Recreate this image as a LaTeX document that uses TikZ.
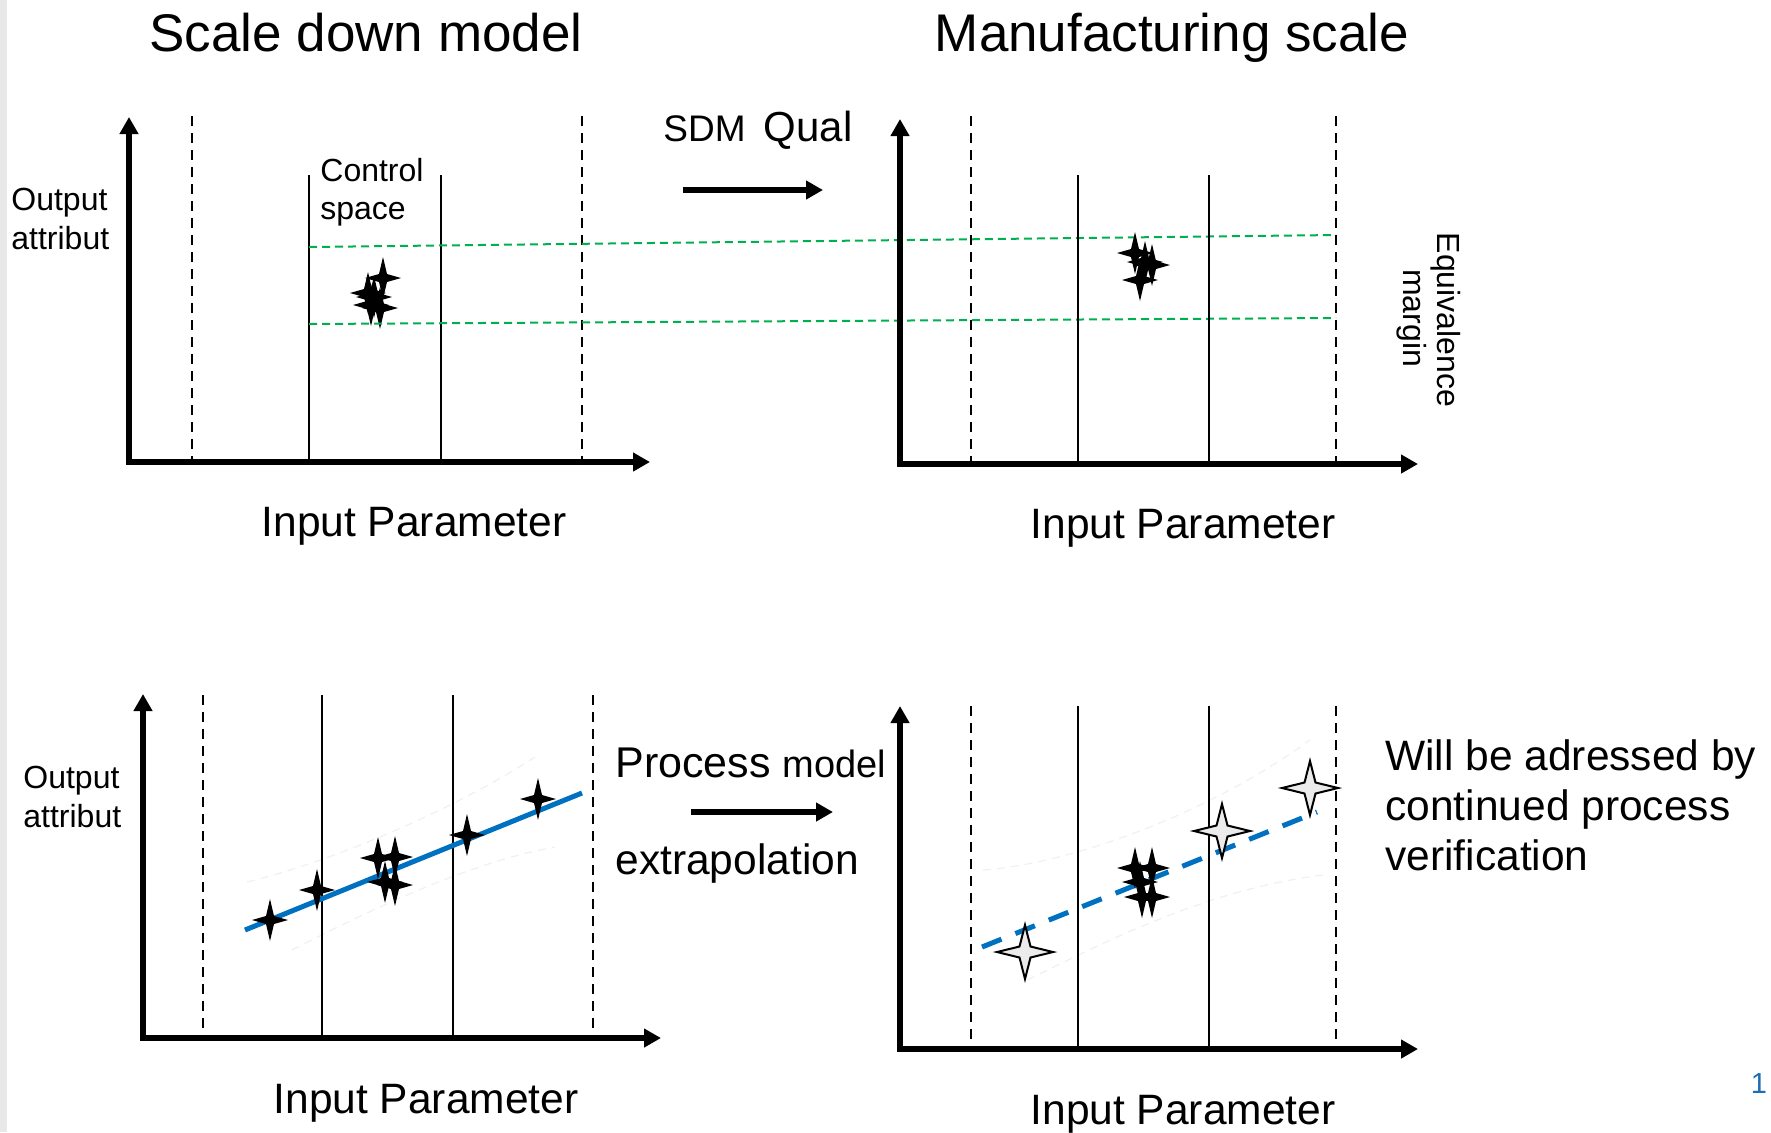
\documentclass[tikz,border=0pt]{standalone}
\usepackage{fontspec}
\setmainfont{Liberation Sans}
\usetikzlibrary{arrows.meta}
\definecolor{eqgreen}{RGB}{0,176,80}
\definecolor{fitblue}{RGB}{0,112,192}
\definecolor{pagenum}{RGB}{30,110,180}
\definecolor{stripgray}{RGB}{232,232,232}
\tikzset{
  bigtext/.style={font=\fontsize{21.25}{25.5}\selectfont, inner sep=0pt},
  titletext/.style={font=\fontsize{26.5}{32}\selectfont, inner sep=0pt},
  smalltext/.style={font=\fontsize{16}{19.5}\selectfont, inner sep=0pt},
  axesline/.style={line width=3pt, line join=miter,
     {Triangle[length=8.5pt,width=9pt]}-{Triangle[length=8.5pt,width=9pt]}},
  midarrow/.style={line width=3pt, -{Triangle[length=8.5pt,width=9pt]}},
  limitline/.style={line width=1pt, dash pattern=on 5pt off 3.5pt},
  ctrlline/.style={line width=0.9pt},
  equivline/.style={line width=1pt, draw=eqgreen, dash pattern=on 4pt off 2.5pt},
  fitline/.style={line width=2.5pt, draw=fitblue},
  fitdashed/.style={line width=2.5pt, draw=fitblue, dash pattern=on 10.5pt off 7.5pt},
  bandline/.style={line width=0.6pt, draw=black!6, dash pattern=on 4pt off 3pt},
  bstar/.pic={\fill[black] (0,-21) -- (4,-4) -- (18,0) -- (4,4) -- (0,21) -- (-4,4) -- (-18,0) -- (-4,-4) -- cycle;},
  wstar/.pic={\filldraw[fill=black!8, draw=black, line width=1pt] (0,-27) -- (5.5,-5.5) -- (28,0) -- (5.5,5.5) -- (0,27) -- (-5.5,5.5) -- (-28,0) -- (-5.5,-5.5) -- cycle;}
}
\begin{document}
\begin{tikzpicture}[x=0.5pt,y=-0.5pt]
\useasboundingbox (0,0) rectangle (1771,1132);
\fill[stripgray] (0,0) rectangle (7,1132);

% titles
\node[titletext, anchor=base] (t1) at (366,51) {Scale down model};
\node[titletext, anchor=base] (t2) at (1172,51) {Manufacturing scale};

% ---------- top left panel ----------
\coordinate (tlY) at (129,117);
\coordinate (tlO) at (129,462);
\coordinate (tlX) at (650,462);
\draw[limitline] (192,116) -- (192,462);
\draw[limitline] (582,116) -- (582,462);
\draw[ctrlline] (309,175) -- (309,462);
\draw[ctrlline] (441,175) -- (441,462);
\draw[axesline] (tlY) -- (tlO) -- (tlX);
\node[smalltext, anchor=base west] (ctl1) at (320,181) {Control};
\node[smalltext, anchor=base west] (ctl2) at (320,219) {space};
\node[smalltext, anchor=base west] (oa1) at (11,210) {Output};
\node[smalltext, anchor=base west] (oa2) at (11,249) {attribut};
\node[bigtext, anchor=base] (ip1) at (414,536) {Input Parameter};
\pic at (383,278) {bstar};
\pic at (368,293) {bstar};
\pic at (374,297) {bstar};
\pic at (380,308) {bstar};
\pic at (371,305) {bstar};

% equivalence margin lines
\draw[equivline] (309,247) -- (1336,235);
\draw[equivline] (309,324) -- (1336,318);

% SDM Qual arrow
\node[anchor=base west, inner sep=0pt] (sdm) at (663,141)
  {{\fontsize{18.5}{22}\selectfont SDM}\hspace{9pt}{\fontsize{21}{25}\selectfont Qual}};
\coordinate (sdmA) at (683,190);
\coordinate (sdmB) at (823,190);
\draw[midarrow] (sdmA) -- (sdmB);

% ---------- top right panel ----------
\coordinate (trY) at (900,119);
\coordinate (trO) at (900,464);
\coordinate (trX) at (1418,464);
\draw[limitline] (971,116) -- (971,464);
\draw[limitline] (1336,116) -- (1336,464);
\draw[ctrlline] (1078,175) -- (1078,464);
\draw[ctrlline] (1209,175) -- (1209,464);
\draw[axesline] (trY) -- (trO) -- (trX);
\node[bigtext, anchor=base] (ip2) at (1183,538) {Input Parameter};
\pic at (1135,253) {bstar};
\pic at (1145,262) {bstar};
\pic at (1152,265) {bstar};
\pic at (1140,280) {bstar};
\node[font=\fontsize{16}{19}\selectfont, inner sep=0pt, anchor=base, rotate=-90] (eq1) at (1437,320) {Equivalence};
\node[font=\fontsize{16}{19}\selectfont, inner sep=0pt, anchor=base, rotate=-90] (eq2) at (1403,318) {margin};

% ---------- bottom left panel ----------
\coordinate (blY) at (143,694);
\coordinate (blO) at (143,1038);
\coordinate (blX) at (661,1038);
\draw[bandline] (247,882) .. controls (330,862) and (450,812) .. (535,757);
\draw[bandline] (292,950) .. controls (370,910) and (470,862) .. (555,847);
\draw[limitline] (203,695) -- (203,1038);
\draw[limitline] (593,695) -- (593,1038);
\draw[ctrlline] (322,695) -- (322,1038);
\draw[ctrlline] (453,695) -- (453,1038);
\draw[axesline] (blY) -- (blO) -- (blX);
\node[smalltext, anchor=base west] (ob1) at (23,788) {Output};
\node[smalltext, anchor=base west] (ob2) at (23,827) {attribut};
\node[bigtext, anchor=base] (ip3) at (426,1113) {Input Parameter};
\coordinate (fitA) at (245,930);
\coordinate (fitB) at (582,793);
\draw[fitline] (fitA) -- (fitB);
\pic at (270,920) {bstar};
\pic at (317,890) {bstar};
\pic at (378,858) {bstar};
\pic at (395,857) {bstar};
\pic at (385,882) {bstar};
\pic at (395,885) {bstar};
\pic at (467,835) {bstar};
\pic at (538,799) {bstar};

% process model arrow
\node[anchor=base west, inner sep=0pt] (proc) at (615,777)
  {\fontsize{21.5}{26}\selectfont Process {\fontsize{19}{23}\selectfont model}};
\node[bigtext, anchor=base west] (extra) at (615,874) {extrapolation};
\coordinate (pmA) at (691,812);
\coordinate (pmB) at (833,812);
\draw[midarrow] (pmA) -- (pmB);

% ---------- bottom right panel ----------
\coordinate (brY) at (900,706);
\coordinate (brO) at (900,1049);
\coordinate (brX) at (1418,1049);
\draw[bandline] (983,870) .. controls (1060,865) and (1200,820) .. (1310,740);
\draw[bandline] (1027,980) .. controls (1090,950) and (1200,890) .. (1323,875);
\draw[limitline] (971,706) -- (971,1049);
\draw[limitline] (1336,706) -- (1336,1049);
\draw[ctrlline] (1078,706) -- (1078,1049);
\draw[ctrlline] (1209,706) -- (1209,1049);
\draw[axesline] (brY) -- (brO) -- (brX);
\node[bigtext, anchor=base] (ip4) at (1183,1124) {Input Parameter};
\coordinate (fdA) at (982,947);
\coordinate (fdB) at (1317,812);
\draw[fitdashed] (fdA) -- (fdB);
\pic at (1135,868) {bstar};
\pic at (1152,868) {bstar};
\pic at (1140,882) {bstar};
\pic at (1142,897) {bstar};
\pic at (1152,897) {bstar};
\pic at (1025,952) {wstar};
\pic at (1222,831) {wstar};
\pic at (1310,788) {wstar};
\node[bigtext, anchor=base west] (cpv1) at (1385,770) {Will be adressed by};
\node[bigtext, anchor=base west] (cpv2) at (1385,820) {continued process};
\node[bigtext, anchor=base west] (cpv3) at (1385,870) {verification};

% page number
\node[font=\fontsize{14.5}{17}\selectfont, text=pagenum, inner sep=0pt, anchor=base] (pg) at (1759,1093) {1};
\end{tikzpicture}
\end{document}
